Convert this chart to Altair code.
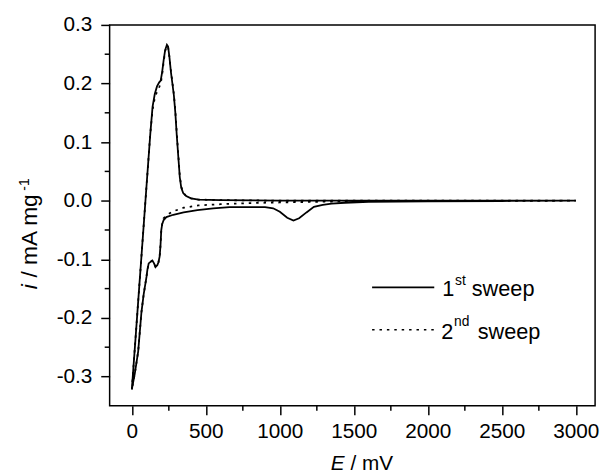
import altair as alt
import pandas as pd

# ---- data (E in mV, i in mA mg^-1) ----
# 1st sweep: anodic branch from 0 mV up to 3000 mV, then cathodic branch back to 0 mV
E_1st = [0, 25, 50, 75, 100, 125, 140, 155, 170, 185, 195, 205, 215, 225, 237, 245,
         254, 264, 274, 284, 294, 304, 314, 324, 334, 347, 367, 400, 450, 600, 1000,
         2000, 3000,
         2500, 2000, 1600, 1440, 1350, 1290, 1230, 1180, 1130, 1092, 1050, 1000, 955,
         900, 800, 660, 550, 443, 350, 280, 233, 215, 205, 199, 194, 188, 180, 172,
         160, 150, 139, 128, 114, 105, 99, 80, 65, 43, 20, 0]
I_1st = [-0.322, -0.235, -0.147, -0.06, 0.028, 0.115, 0.16, 0.182, 0.195, 0.202,
         0.205, 0.22, 0.24, 0.257, 0.266, 0.263, 0.245, 0.22, 0.2, 0.18, 0.15, 0.11,
         0.075, 0.04, 0.022, 0.013, 0.008, 0.004, 0.002, 0.001, 0.0, 0.0, 0.0,
         -0.0005, -0.001, -0.002, -0.0035, -0.005, -0.007, -0.0105, -0.02, -0.03,
         -0.034, -0.029, -0.019, -0.013, -0.011, -0.011, -0.011, -0.013, -0.016,
         -0.02, -0.024, -0.028, -0.033, -0.04, -0.05, -0.075, -0.095, -0.105, -0.11,
         -0.113, -0.107, -0.102, -0.104, -0.107, -0.118, -0.13, -0.16, -0.19, -0.257,
         -0.295, -0.322]

# 2nd sweep
E_2nd = [0, 25, 50, 75, 100, 125, 140, 155, 170, 185, 195, 205, 215, 225, 237, 245,
         254, 264, 274, 284, 294, 304, 314, 324, 334, 347, 367, 400, 450, 600, 1000,
         2000, 3000,
         2500, 2000, 1500, 1200, 1000, 800, 600, 450, 350, 280, 240, 215, 205, 199,
         194, 188, 180, 172, 160, 150, 139, 128, 114, 105, 99, 80, 65, 43, 20, 0]
I_2nd = [-0.322, -0.235, -0.147, -0.06, 0.028, 0.115, 0.155, 0.175, 0.186, 0.194,
         0.2, 0.215, 0.237, 0.255, 0.264, 0.262, 0.245, 0.222, 0.202, 0.182, 0.153,
         0.114, 0.078, 0.043, 0.024, 0.014, 0.008, 0.004, 0.002, 0.001, 0.0, 0.0, 0.0,
         -0.0003, -0.0005, -0.001, -0.002, -0.003, -0.004, -0.006, -0.008, -0.012,
         -0.018, -0.024, -0.03, -0.04, -0.05, -0.075, -0.095, -0.105, -0.11, -0.113,
         -0.107, -0.102, -0.104, -0.107, -0.118, -0.13, -0.16, -0.19, -0.257, -0.295,
         -0.322]

x_major = [0, 500, 1000, 1500, 2000, 2500, 3000]
x_minor = [250, 750, 1250, 1750, 2250, 2750]
y_major = [-0.3, -0.2, -0.1, 0.0, 0.1, 0.2, 0.3]
y_minor = [-0.25, -0.15, -0.05, 0.05, 0.15, 0.25]

legend_labels = [("1", "st", "sweep"), ("2", "nd", "sweep")]
x_title = ("E", "/ mV")
y_title = ("i", "/ mA mg", "-1")

FONT = "Liberation Sans"
W, H = 492, 386

rows = []
for name, Es, Is in [("1st", E_1st, I_1st), ("2nd", E_2nd, I_2nd)]:
    for k, (e, v) in enumerate(zip(Es, Is)):
        rows.append({"E": e, "i": v, "sweep": name, "ord": k})
df = pd.DataFrame(rows)

xscale = alt.Scale(domain=[-150, 3130], nice=False, zero=False)
yscale = alt.Scale(domain=[-0.35, 0.3], nice=False, zero=False)

xaxis = alt.Axis(values=x_major, title=None, grid=False, domain=False, format="d",
                 tickSize=9, tickWidth=1.5, tickColor="black",
                 labelFont=FONT, labelFontSize=21, labelColor="black",
                 labelPadding=6, labelFlush=False, labelOverlap=False)
yaxis = alt.Axis(values=y_major, title=None, grid=False, domain=False,
                 tickSize=9, tickWidth=1.5, tickColor="black",
                 labelFont=FONT, labelFontSize=21, labelColor="black",
                 labelPadding=9, labelFlush=False, labelOverlap=False,
                 labelExpr="replace(format(datum.value, '.1f'), '\u2212', '-')")

X = alt.X("E:Q", scale=xscale, axis=xaxis)
Y = alt.Y("i:Q", scale=yscale, axis=yaxis)

base = alt.Chart(df)
line2 = base.transform_filter(alt.datum.sweep == "2nd").mark_line(
    color="black", strokeWidth=1.8, strokeDash=[2.5, 5]
).encode(x=X, y=Y, order="ord:Q")
line1 = base.transform_filter(alt.datum.sweep == "1st").mark_line(
    color="black", strokeWidth=1.8
).encode(x=X, y=Y, order="ord:Q")

xminor = alt.Chart(pd.DataFrame({"E": x_minor})).mark_rule(
    color="black", strokeWidth=1.5
).encode(x=X, y=alt.value(H), y2=alt.value(H + 5))
yminor = alt.Chart(pd.DataFrame({"i": y_minor})).mark_rule(
    color="black", strokeWidth=1.5
).encode(y=Y, x=alt.value(0), x2=alt.value(-5))

one = pd.DataFrame({"a": [0]})


def txt(t, x, y, size=22, style="normal", angle=0):
    return alt.Chart(one).mark_text(
        text=t, align="left", baseline="alphabetic", font=FONT,
        fontSize=size, fontStyle=style, color="black", angle=angle
    ).encode(x=alt.value(x), y=alt.value(y))


# legend
leg_solid = alt.Chart(one).mark_rule(color="black", strokeWidth=1.6).encode(
    x=alt.value(266), x2=alt.value(329), y=alt.value(266))
leg_dot = alt.Chart(one).mark_rule(color="black", strokeWidth=1.6,
                                   strokeDash=[2.5, 5]).encode(
    x=alt.value(266), x2=alt.value(329), y=alt.value(309))
leg_texts = [
    txt(legend_labels[0][0], 337, 275),
    txt(legend_labels[0][1], 350, 264, size=14),
    txt(legend_labels[0][2], 367, 275),
    txt(legend_labels[1][0], 336, 318),
    txt(legend_labels[1][1], 349, 305, size=14),
    txt(legend_labels[1][2], 373, 318),
]

# axis titles
xt = [txt(x_title[0], 224, 451, size=21, style="italic"),
      txt(x_title[1], 244, 451, size=21)]
yt = [txt(y_title[0], -74, 268, size=23, style="italic", angle=270),
      txt(y_title[1], -74, 256, size=23, angle=270),
      txt(y_title[2], -82, 168, size=14, angle=270)]

chart = alt.layer(line2, line1, xminor, yminor, leg_solid, leg_dot,
                  *leg_texts, *xt, *yt).properties(
    width=W, height=H,
    autosize=alt.AutoSizeParams(type="none"),
    padding={"left": 103, "top": 14, "right": 7, "bottom": 67},
    background="white",
).configure_view(stroke="black", strokeWidth=1.5)

chart.save("out.html", embed_options={"renderer": "svg", "actions": False})
